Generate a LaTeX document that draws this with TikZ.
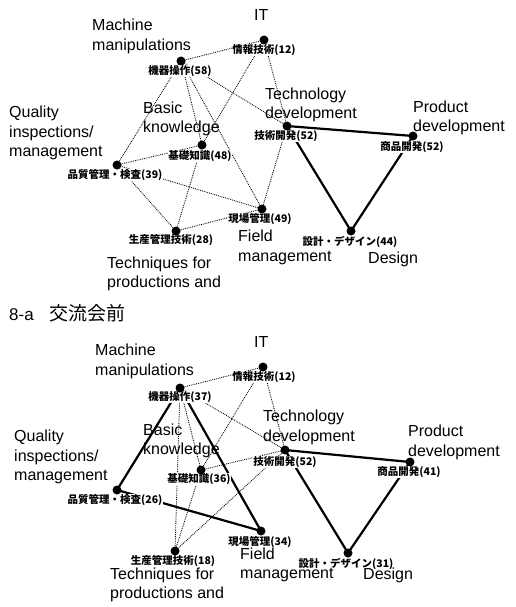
\documentclass[tikz,border=0pt]{standalone}
\usepackage{fontspec}
\setmainfont{Liberation Sans}
\newfontfamily\jpfont{Noto Sans CJK JP}

\tikzset{
  dot/.style={circle, fill=black, inner sep=0pt, minimum size=9pt},
  jlabel/.style={fill=white, inner sep=0.6pt, font=\jpfont\bfseries\fontsize{10.5}{12}\selectfont},
  elabel/.style={anchor=west, inner sep=0pt, align=left, font=\fontsize{16}{19.5}\selectfont},
  weak/.style={densely dotted, line width=0.85pt},
  strong/.style={line width=2.2pt},
}

\begin{document}
\begin{tikzpicture}[x=1pt, y=-1pt]
\useasboundingbox (0,0) rectangle (516,607);

% ---------- upper network ----------
\coordinate (kA) at (181,61);
\coordinate (jA) at (264,40);
\coordinate (gA) at (287,126);
\coordinate (sA) at (413,136);
\coordinate (dA) at (351,231);
\coordinate (fA) at (262,209);
\coordinate (pA) at (176,231);
\coordinate (qA) at (117,165);
\coordinate (bA) at (202,145);

\foreach \a/\b in {kA/jA, kA/qA, kA/bA, kA/fA, kA/gA, jA/bA, jA/gA,
                   qA/bA, qA/fA, qA/pA, bA/pA, pA/fA, gA/fA}
  \draw[weak] (\a) -- (\b);
\foreach \a/\b in {gA/sA, gA/dA, sA/dA}
  \draw[strong] (\a) -- (\b);

\node[jlabel] (kAl) at (180,71)  {機器操作(58)};
\node[jlabel] (jAl) at (264,50)  {情報技術(12)};
\node[jlabel] (gAl) at (286,136) {技術開発(52)};
\node[jlabel] (sAl) at (412,147) {商品開発(52)};
\node[jlabel] (dAl) at (350,242) {設計・デザイン(44)};
\node[jlabel] (fAl) at (260,219) {現場管理(49)};
\node[jlabel] (pAl) at (171,240) {生産管理技術(28)};
\node[jlabel] (qAl) at (115,175) {品質管理・検査(39)};
\node[jlabel] (bAl) at (200,156) {基礎知識(48)};

\foreach \n in {kA,jA,gA,sA,dA,fA,pA,qA,bA}
  \node[dot] (\n dot) at (\n) {};

\node[elabel] (mA) at (92,36.5)  {Machine\\manipulations};
\node[elabel] (iA) at (254,15)   {IT};
\node[elabel] (qtA) at (9,133)   {Quality\\inspections/\\management};
\node[elabel] (bkA) at (143,119) {Basic\\knowledge};
\node[elabel] (tdA) at (265,105) {Technology\\development};
\node[elabel] (pdA) at (413,118) {Product\\development};
\node[elabel] (fmA) at (238,247.5) {Field\\management};
\node[elabel] (dsA) at (368,259) {Design};
\node[elabel] (tpA) at (107,274) {Techniques for\\productions and};

% ---------- caption ----------
\node[anchor=west, inner sep=0pt] (cap) at (9,313)
  {{\fontsize{17}{20}\selectfont 8-a}\hspace{16pt}{\jpfont\fontsize{19}{22}\selectfont 交流会前}};

% ---------- lower network ----------
\coordinate (kB) at (180,388);
\coordinate (jB) at (263,367);
\coordinate (gB) at (285,450);
\coordinate (sB) at (410,462);
\coordinate (dB) at (348,553);
\coordinate (fB) at (261,531);
\coordinate (pB) at (175,551);
\coordinate (qB) at (117,490);
\coordinate (bB) at (201,470);

\foreach \a/\b in {kB/jB, kB/gB, kB/bB, kB/pB, jB/gB, jB/bB,
                   bB/gB, bB/pB, pB/gB}
  \draw[weak] (\a) -- (\b);
\foreach \a/\b in {kB/qB, kB/fB, qB/fB, gB/sB, gB/dB, sB/dB}
  \draw[strong] (\a) -- (\b);

\node[jlabel] (kBl) at (180,397) {機器操作(37)};
\node[jlabel] (jBl) at (264,377) {情報技術(12)};
\node[jlabel] (gBl) at (285,462) {技術開発(52)};
\node[jlabel] (sBl) at (409,472) {商品開発(41)};
\node[jlabel] (dBl) at (346,564) {設計・デザイン(31)};
\node[jlabel] (fBl) at (260,542) {現場管理(34)};
\node[jlabel] (pBl) at (173,561) {生産管理技術(18)};
\node[jlabel] (qBl) at (115,500) {品質管理・検査(26)};
\node[jlabel] (bBl) at (199,479) {基礎知識(36)};

\foreach \n in {kB,jB,gB,sB,dB,fB,pB,qB,bB}
  \node[dot] (\n dot) at (\n) {};

\node[elabel] (mB) at (95,361.5)  {Machine\\manipulations};
\node[elabel] (iB) at (254,342)   {IT};
\node[elabel] (qtB) at (14,457)   {Quality\\inspections/\\management};
\node[elabel] (bkB) at (143,441)  {Basic\\knowledge};
\node[elabel] (tdB) at (263,427.5) {Technology\\development};
\node[elabel] (pdB) at (408,442.5) {Product\\development};
\node[elabel] (fmB) at (240,565)  {Field\\management};
\node[elabel] (dsB) at (363,575)  {Design};
\node[elabel] (tpB) at (110,585)  {Techniques for\\productions and};
\end{tikzpicture}
\end{document}
